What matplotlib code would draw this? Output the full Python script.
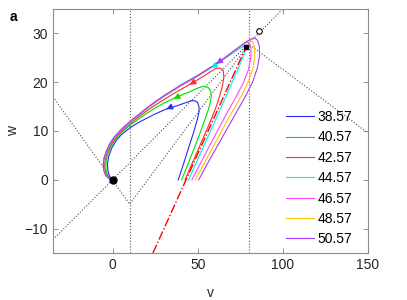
import matplotlib.pyplot as plt
import numpy as np

plt.rcParams['font.family'] = ['Liberation Sans', 'DejaVu Sans']

# initial v (w = 0) of each trajectory, used as legend labels
labels = ["38.57", "40.57", "42.57", "44.57", "46.57", "48.57", "50.57"]
colors = ["#2a2aff", "#00dd00", "#ff2a2a", "#00f0f0", "#ff44ff", "#ffc400", "#a63cff"]

# trajectories (v, w)
v_3857 = [38.57, 41.5, 44.5, 47.3, 49.5, 50.7, 50.8, 49.8, 48.2, 46, 43, 38, 31.6, 25, 20, 15, 10, 5, 2,
          -0.5, -2.2, -3.0, -2.8, -2.0, -0.9, 0]
w_3857 = [0, 3.1, 6.4, 9.4, 12.0, 13.8, 15.0, 15.9, 16.2, 16.2, 15.8, 15.2, 14.5, 13.5, 12.6, 11.7, 10.6, 9.2, 8.0,
          6.5, 4.9, 3.3, 2.0, 0.9, 0.2, 0]

v_4057 = [40.57, 44, 48, 51.5, 54.5, 56.8, 57.9, 57.7, 56.2, 53.5, 50, 45, 40, 35.5, 30, 25, 20, 15, 10, 5, 1.5,
          -1, -2.9, -3.9, -3.9, -3.3, -2.1, -0.9, 0]
w_4057 = [0, 3.0, 6.5, 9.7, 12.6, 15.0, 16.8, 18.1, 18.9, 19.2, 18.8, 18.0, 17.3, 16.6, 15.7, 14.7, 13.6, 12.4, 11.1,
          9.6, 8.2, 6.8, 5.2, 3.6, 2.3, 1.2, 0.5, 0.1, 0]

v_4257 = [42.57, 46.5, 50.5, 54.5, 58.3, 61.7, 64.2, 65.4, 65.0, 63.3, 60.5, 55, 50, 45, 40, 35, 30, 25, 20, 15,
          10, 5, 1.5, -1.3, -3.3, -4.5, -4.7, -4.2, -3.1, -1.5, 0]
w_4257 = [0, 3.2, 6.4, 9.6, 12.7, 15.8, 18.8, 21.0, 22.4, 22.9, 22.8, 21.6, 20.5, 19.5, 18.5, 17.5, 16.4, 15.3,
          14.1, 12.8, 11.4, 9.9, 8.5, 7.0, 5.5, 3.9, 2.6, 1.5, 0.7, 0.2, 0]

v_4457 = [44.57, 48.5, 53, 57.5, 62, 66.5, 70.5, 74, 76.8, 77.8, 78.6, 78.0, 75, 70, 65, 60, 55, 50, 45, 40, 35,
          30, 25, 20, 15, 10, 5, 1.3, -1.5, -3.4, -4.8, -5.3, -4.9, -3.9, -2.2, 0]
w_4457 = [0, 3.0, 6.5, 10.0, 13.5, 17.0, 20.2, 23.0, 25.3, 26.4, 27.2, 27.5, 27.0, 25.8, 24.6, 23.4, 22.3, 21.2,
          20.2, 19.2, 18.1, 17.0, 15.8, 14.5, 13.1, 11.7, 10.1, 8.7, 7.3, 5.9, 4.4, 3.1, 1.8, 0.85, 0.28, 0]

v_4657 = [46.57, 51.5, 57, 62.5, 67.5, 72.5, 76.8, 79.8, 81.2, 81.3, 80.4, 78.8, 75, 70, 65, 60, 55, 50, 45, 40,
          35, 30, 25, 20, 15, 10, 5, 1.3, -1.5, -3.5, -5, -5.4, -5.0, -4.0, -2.3, 0]
w_4657 = [0, 3.3, 7.0, 10.6, 13.9, 17.0, 19.9, 22.6, 25.0, 26.9, 28.0, 28.2, 27.3, 26.0, 24.7, 23.5, 22.4, 21.3,
          20.3, 19.3, 18.2, 17.1, 15.9, 14.6, 13.2, 11.8, 10.2, 8.8, 7.4, 5.9, 4.4, 3.1, 1.8, 0.9, 0.3, 0]

v_4857 = [48.57, 54, 59.7, 65.3, 70.5, 75.5, 79.5, 82.3, 83.5, 83.3, 82.2, 80.5, 79, 75, 70, 65, 60, 55, 50, 45,
          40, 35, 30, 25, 20, 15, 10, 5, 1.3, -1.5, -3.5, -5, -5.5, -5.1, -4.0, -2.3, 0]
w_4857 = [0, 3.5, 7.2, 10.8, 14.1, 17.1, 19.9, 22.7, 25.2, 27.2, 28.3, 28.6, 28.3, 27.4, 26.1, 24.8, 23.6, 22.5,
          21.4, 20.4, 19.4, 18.3, 17.2, 16.0, 14.7, 13.3, 11.9, 10.3, 8.9, 7.5, 6.0, 4.5, 3.2, 1.9, 0.9, 0.3, 0]

v_5057 = [50.57, 56, 62, 67.8, 73, 78, 82.2, 85, 86.3, 86.2, 85.1, 83.2, 81, 79, 75, 70, 65, 60, 55, 50, 45, 40,
          35, 30, 25, 20, 15, 10, 5, 1.3, -1.5, -3.5, -5, -5.5, -5.1, -4.0, -2.3, 0]
w_5057 = [0, 3.5, 7.2, 10.8, 14.0, 17.1, 20.0, 22.9, 25.4, 27.4, 28.6, 29.1, 28.8, 28.4, 27.4, 26.1, 24.8, 23.6,
          22.5, 21.4, 20.4, 19.4, 18.3, 17.2, 16.0, 14.7, 13.3, 11.9, 10.3, 8.9, 7.5, 6.0, 4.5, 3.2, 1.9, 0.9, 0.3, 0]

traj_v = [v_3857, v_4057, v_4257, v_4457, v_4657, v_4857, v_5057]
traj_w = [w_3857, w_4057, w_4257, w_4457, w_4657, w_4857, w_5057]

# where the direction arrows sit (None = hidden under another curve)
arrow_at = [(31.6, 14.5), (35.8, 16.6), (45.2, 19.5), (57.8, 22.9), None, None, (60.8, 23.8)]

# piecewise linear nullclines, fixed points, separatrix
ncl_v = [-35, 10, 80, 150]
ncl_w = [17, -5, 27.8, 9.6]
wncl_v = [-35, 100]
wncl_w = [-12.25, 35]
sep_v = [23.7, 78.5]
sep_w = [-15, 27.3]
stable_pt = (0, 0)
saddle_pt = (78.5, 27.3)
open_pt = (86.1, 30.4)
vlines = [10, 80]

fig = plt.figure(figsize=(4.07, 3.0), dpi=100)
ax = fig.add_axes([53 / 407, 47 / 300, 315 / 407, 244 / 300])

for x in vlines:
    ax.axvline(x, color='0.35', ls=':', lw=0.8)
ax.plot(ncl_v, ncl_w, color='0.3', ls=':', lw=0.8)
ax.plot(wncl_v, wncl_w, color='0.3', ls=':', lw=0.8)

for vv, ww, c, lab in zip(traj_v, traj_w, colors, labels):
    ax.plot(vv, ww, color=c, lw=0.8, label=lab)

for vv, ww, c, pos in zip(traj_v, traj_w, colors, arrow_at):
    if pos is None:
        continue
    pts = np.column_stack([vv, ww])
    i = np.argmin(np.hypot(pts[:, 0] - pos[0], pts[:, 1] - pos[1]))
    i = min(i, len(pts) - 2)
    d = pts[i + 1] - pts[i]
    d = d / np.hypot(*d)
    ax.annotate('', xy=pos, xytext=(pos[0] - 0.5 * d[0], pos[1] - 0.5 * d[1]),
                arrowprops=dict(arrowstyle='-|>', color=c, lw=0.8, mutation_scale=9,
                                shrinkA=0, shrinkB=0))

ax.plot(sep_v, sep_w, color='red', ls='-.', lw=1.0)

ax.plot(*stable_pt, 'o', color='k', ms=5)
ax.plot(*saddle_pt, 's', color='k', ms=3.5)
ax.plot(*open_pt, 'o', mfc='white', mec='k', ms=4, mew=0.8)

ax.set_xlim(-35, 150)
ax.set_ylim(-15, 35)
ax.set_xticks([0, 50, 100, 150])
ax.set_yticks([-10, 0, 10, 20, 30])
ax.tick_params(direction='in', top=True, right=True, length=3.5, width=0.6,
               color='0.5', labelsize=10, labelcolor='#262626')
for s in ax.spines.values():
    s.set_color('0.55')
    s.set_linewidth(0.8)
ax.set_xlabel('v', fontsize=10, color='#262626')
ax.set_ylabel('w', fontsize=10, color='#262626')
ax.xaxis.set_label_coords(0.5, -0.135)
ax.yaxis.set_label_coords(-0.105, 0.5)

ax.legend(loc='upper left', bbox_to_anchor=(0.74, 0.586), frameon=False, fontsize=10,
          borderpad=0, borderaxespad=0, handlelength=2.0, handletextpad=0.25,
          labelspacing=0.46)

fig.text(10 / 407, 1 - 17 / 300, 'a', fontsize=10, fontweight='bold', va='center')

fig.savefig('out.png', dpi=100)
